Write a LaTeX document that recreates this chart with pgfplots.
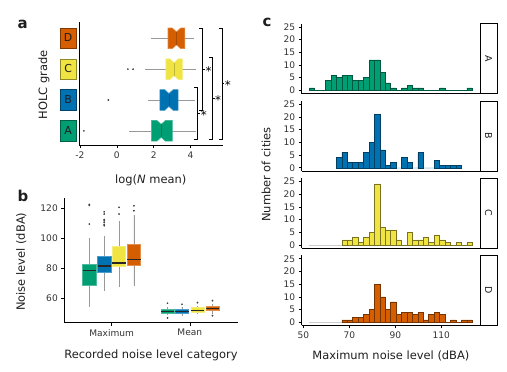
\documentclass[border=0pt]{standalone}
\usepackage{pgfplots}
\pgfplotsset{compat=1.18}
\usepgfplotslibrary{statistics}
\usepackage{fontspec}
\setmainfont{DejaVu Sans}
\definecolor{Acol}{HTML}{009E73}
\definecolor{Bcol}{HTML}{0072B2}
\definecolor{Ccol}{HTML}{F0E442}
\definecolor{Dcol}{HTML}{D55E00}
\definecolor{txt}{HTML}{1E1E1E}
\setlength{\fboxsep}{2.5bp}
\setlength{\fboxrule}{0.6bp}
\newcommand{\lbl}[2]{\fcolorbox{#1!60!black}{#1}{\makebox[11bp][c]{\rule[-4bp]{0pt}{15bp}\fontsize{11}{11}\selectfont\color{txt}#2}}}
\pgfplotsset{
  base/.style={scale only axis, anchor=north west,
    axis x line*=bottom, axis y line*=left,
    axis line style={line width=0.6bp, black},
    tick align=outside, major tick length=3bp,
    tick style={line width=0.6bp, black},
    ticklabel style={font=\fontsize{9.1}{10}\selectfont, text=black!80},
    /pgf/number format/assume math mode=true, clip=false},
  hist/.style={base, width=178.3bp, height=70bp, xmin=49.3, xmax=126.8,
    ymin=-1.2, ymax=26.3, ytick={0,5,10,15,20,25}, xtick={50,70,90,110}},
  whisk/.style={black!40, line width=0.6bp},
  outl/.style={only marks, mark=*, mark size=0.65bp, black!75},
}
\newcommand{\strip}[1]{%
  \draw[line width=0.6bp] (axis description cs:1,0) rectangle ([xshift=17.3bp]axis description cs:1,1);
  \node[rotate=-90, font=\fontsize{9.5}{10}\selectfont, text=txt] at ([xshift=8.65bp]axis description cs:1,0.5) {#1};}
\begin{document}
\begin{tikzpicture}
\useasboundingbox (0,0) rectangle (507bp,-372bp);

% ---------------- panel a ----------------
\begin{axis}[base, at={(79bp,-21.7bp)}, width=143.7bp, height=123.3bp,
  xmin=-2.054, xmax=5.75, ymin=0.54, ymax=4.54,
  xtick={-2,0,2,4}, ytick={1,2,3,4},
  yticklabels={\lbl{Acol}{A},\lbl{Bcol}{B},\lbl{Ccol}{C},\lbl{Dcol}{D}},
  ytick style={draw=none}, yticklabel style={inner sep=0pt, xshift=1bp}]
% whiskers
\addplot[whisk] coordinates {(0.68,1) (1.88,1)};
\addplot[whisk] coordinates {(3.02,1) (4.28,1)};
\addplot[whisk] coordinates {(1.70,2) (2.34,2)};
\addplot[whisk] coordinates {(3.33,2) (4.24,2)};
\addplot[whisk] coordinates {(1.55,3) (2.67,3)};
\addplot[whisk] coordinates {(3.56,3) (4.30,3)};
\addplot[whisk] coordinates {(1.88,4) (2.78,4)};
\addplot[whisk] coordinates {(3.69,4) (4.17,4)};
% notched boxes
\addplot[fill=Acol, draw=Acol!75!white, line width=0.6bp] coordinates {(1.88,0.665)(2.18,0.665)(2.41,0.79)(2.64,0.665)(3.02,0.665)(3.02,1.335)(2.64,1.335)(2.41,1.21)(2.18,1.335)(1.88,1.335)} --cycle;
\addplot[fill=Bcol, draw=Bcol!75!white, line width=0.6bp] coordinates {(2.34,1.665)(2.60,1.665)(2.83,1.79)(3.06,1.665)(3.33,1.665)(3.33,2.335)(3.06,2.335)(2.83,2.21)(2.60,2.335)(2.34,2.335)} --cycle;
\addplot[fill=Ccol, draw=Ccol!75!white, line width=0.6bp] coordinates {(2.67,2.665)(2.88,2.665)(3.11,2.79)(3.34,2.665)(3.56,2.665)(3.56,3.335)(3.34,3.335)(3.11,3.21)(2.88,3.335)(2.67,3.335)} --cycle;
\addplot[fill=Dcol, draw=Dcol!75!white, line width=0.6bp] coordinates {(2.78,3.665)(3.01,3.665)(3.24,3.79)(3.47,3.665)(3.69,3.665)(3.69,4.335)(3.47,4.335)(3.24,4.21)(3.01,4.335)(2.78,4.335)} --cycle;
% medians
\addplot[Acol!80!black, line width=0.4bp] coordinates {(2.41,0.79) (2.41,1.21)};
\addplot[Bcol!80!black, line width=0.4bp] coordinates {(2.83,1.79) (2.83,2.21)};
\addplot[Ccol!80!black, line width=0.4bp] coordinates {(3.11,2.79) (3.11,3.21)};
\addplot[Dcol!80!black, line width=0.4bp] coordinates {(3.24,3.79) (3.24,4.21)};
% outliers
\addplot[outl] coordinates {(-1.79,1) (-0.46,2) (0.60,3) (0.88,3)};
% significance brackets
\addplot[black, line width=0.6bp] coordinates {(4.20,2.41) (4.39,2.41) (4.39,0.73) (4.20,0.73)};
\addplot[black, line width=0.6bp] coordinates {(4.39,1.57) (4.50,1.57)};
\addplot[black, line width=0.6bp] coordinates {(4.48,4.32) (4.66,4.32) (4.66,1.67) (4.48,1.67)};
\addplot[black, line width=0.6bp] coordinates {(4.66,3.0) (4.78,3.0)};
\addplot[black, line width=0.6bp] coordinates {(5.03,3.38) (5.21,3.38) (5.21,0.73) (5.03,0.73)};
\addplot[black, line width=0.6bp] coordinates {(5.21,2.06) (5.33,2.06)};
\addplot[black, line width=0.6bp] coordinates {(5.54,4.32) (5.72,4.32) (5.72,0.73) (5.54,0.73)};
\addplot[black, line width=0.6bp] coordinates {(5.72,2.55) (5.84,2.55)};
\node[font=\fontsize{12}{12}\selectfont] at (axis cs:4.72,1.50) {*};
\node[font=\fontsize{12}{12}\selectfont] at (axis cs:4.98,2.95) {*};
\node[font=\fontsize{12}{12}\selectfont] at (axis cs:5.50,2.00) {*};
\node[font=\fontsize{12}{12}\selectfont] at (axis cs:6.03,2.49) {*};
\end{axis}

% ---------------- panel b ----------------
\begin{axis}[base, at={(64.3bp,-198.3bp)}, width=174bp, height=124.4bp,
  xmin=0.395, xmax=2.62, ymin=43.7, ymax=126.7,
  xtick={1,2}, xticklabels={Maximum,Mean}, ytick={60,80,100,120},
  boxplot/draw direction=y,
  boxplot/every whisker/.style={black!40, line width=0.6bp},
  boxplot/every median/.style={black!85, line width=1.2bp},
  bx/.style={line width=0.6bp, fill=#1, draw=#1!70!white}]
\addplot[bx=Acol, boxplot prepared={draw position=0.715, lower whisker=54.4, lower quartile=68.4, median=78.7, upper quartile=82.7, upper whisker=100.4, box extend=0.17, whisker extend=0}] coordinates {};
\addplot[bx=Bcol, boxplot prepared={draw position=0.905, lower whisker=64.9, lower quartile=77.3, median=81.5, upper quartile=87.7, upper whisker=101.5, box extend=0.17, whisker extend=0}] coordinates {};
\addplot[bx=Ccol, boxplot prepared={draw position=1.095, lower whisker=67.8, lower quartile=81.5, median=83.5, upper quartile=94.4, upper whisker=111.5, box extend=0.17, whisker extend=0}] coordinates {};
\addplot[bx=Dcol, boxplot prepared={draw position=1.285, lower whisker=68.4, lower quartile=82.0, median=86.0, upper quartile=96.2, upper whisker=115.5, box extend=0.17, whisker extend=0}] coordinates {};
\addplot[bx=Acol, boxplot prepared={draw position=1.715, lower whisker=48.9, lower quartile=50.0, median=51.3, upper quartile=52.7, upper whisker=54.4, box extend=0.17, whisker extend=0}] coordinates {};
\addplot[bx=Bcol, boxplot prepared={draw position=1.900, lower whisker=48.4, lower quartile=50.0, median=51.3, upper quartile=52.7, upper whisker=54.5, box extend=0.17, whisker extend=0}] coordinates {};
\addplot[bx=Ccol, boxplot prepared={draw position=2.098, lower whisker=49.5, lower quartile=50.7, median=52.0, upper quartile=53.7, upper whisker=55.0, box extend=0.17, whisker extend=0}] coordinates {};
\addplot[bx=Dcol, boxplot prepared={draw position=2.290, lower whisker=49.8, lower quartile=51.8, median=53.3, upper quartile=54.4, upper whisker=56.0, box extend=0.17, whisker extend=0}] coordinates {};
\addplot[outl] coordinates {(0.715,109.5) (0.715,122.0) (0.715,122.6)
  (0.905,108.4) (0.905,109.3) (0.905,110.7) (0.905,111.7) (0.905,112.5) (0.905,116.2) (0.905,117.7)
  (1.095,116.2) (1.095,120.7) (1.285,118.4) (1.285,121.7)
  (1.715,56.7) (1.715,46.9) (1.900,56.0) (2.098,57.1) (2.290,58.4) (2.290,48.4)};
\end{axis}

% ---------------- panel c ----------------
\begin{axis}[hist, at={(301.7bp,-23.5bp)}, xtick=\empty]
\addplot[ybar interval, fill=Acol, draw=Acol!55!black, line width=0.5bp] coordinates {(52.60,1)(54.96,0)(57.32,0)(59.68,4)(62.04,6)(64.40,5)(66.76,6)(69.12,6)(71.48,4)(73.84,4)(76.20,5)(78.56,12)(80.92,12)(83.28,7)(85.64,3)(88.00,1)(90.36,0)(92.72,1)(95.08,2)(97.44,1)(99.80,1)(102.16,0)(104.52,0)(106.88,0)(109.24,1)(111.60,0)(113.96,0)(116.32,0)(118.68,0)(121.04,1)(123.40,1)};
\strip{A}
\end{axis}
\begin{axis}[hist, at={(301.7bp,-100.8bp)}, xtick=\empty]
\addplot[ybar interval, fill=Bcol, draw=Bcol!55!black, line width=0.5bp] coordinates {(64.40,4)(66.76,6)(69.12,2)(71.48,2)(73.84,2)(76.20,6)(78.56,10)(80.92,21)(83.28,7)(85.64,1)(88.00,2)(90.36,0)(92.72,4)(95.08,2)(97.44,0)(99.80,6)(102.16,0)(104.52,0)(106.88,3)(109.24,1)(111.60,1)(113.96,1)(116.32,1)(118.68,1)};
\strip{B}
\end{axis}
\begin{axis}[hist, at={(301.7bp,-178.1bp)}, xtick=\empty]
\addplot[black!20, line width=0.5bp] coordinates {(52.60,0) (66.76,0)};
\addplot[ybar interval, fill=Ccol, draw=Ccol!50!black, line width=0.5bp] coordinates {(66.76,2)(69.12,2)(71.48,3)(73.84,1)(76.20,3)(78.56,5)(80.92,24)(83.28,7)(85.64,6)(88.00,6)(90.36,2)(92.72,0)(95.08,5)(97.44,2)(99.80,2)(102.16,3)(104.52,1)(106.88,4)(109.24,2)(111.60,1)(113.96,0)(116.32,1)(118.68,0)(121.04,1)(123.40,1)};
\strip{C}
\end{axis}
\begin{axis}[hist, at={(301.7bp,-255.4bp)}]
\addplot[black!20, line width=0.5bp] coordinates {(52.60,0) (66.76,0)};
\addplot[ybar interval, fill=Dcol, draw=Dcol!55!black, line width=0.5bp] coordinates {(66.76,1)(69.12,1)(71.48,2)(73.84,2)(76.20,3)(78.56,5)(80.92,15)(83.28,10)(85.64,5)(88.00,8)(90.36,3)(92.72,4)(95.08,4)(97.44,3)(99.80,4)(102.16,1)(104.52,3)(106.88,4)(109.24,3)(111.60,0)(113.96,1)(116.32,0)(118.68,1)(121.04,1)(123.40,1)};
\strip{D}
\end{axis}

% ---------------- titles ----------------
\begin{scope}[every node/.style={text=txt, font=\fontsize{11.5}{12}\selectfont}]
\node[font=\bfseries\fontsize{15}{15}\selectfont, anchor=base west] at (14bp,-28.3bp) {a};
\node[font=\bfseries\fontsize{15}{15}\selectfont, anchor=base west] at (14bp,-201.7bp) {b};
\node[font=\bfseries\fontsize{15}{15}\selectfont, anchor=base west] at (259bp,-26.7bp) {c};
\node[rotate=90] at (44bp,-85bp) {HOLC grade};
\node at (150.8bp,-180bp) {log(\textit{N} mean)};
\node[rotate=90] at (21.3bp,-261.7bp) {Noise level (dBA)};
\node at (151bp,-355.8bp) {Recorded noise level category};
\node at (390.9bp,-356.2bp) {Maximum noise level (dBA)};
\node[rotate=90] at (266bp,-174.5bp) {Number of cities};
\end{scope}
\end{tikzpicture}
\end{document}
